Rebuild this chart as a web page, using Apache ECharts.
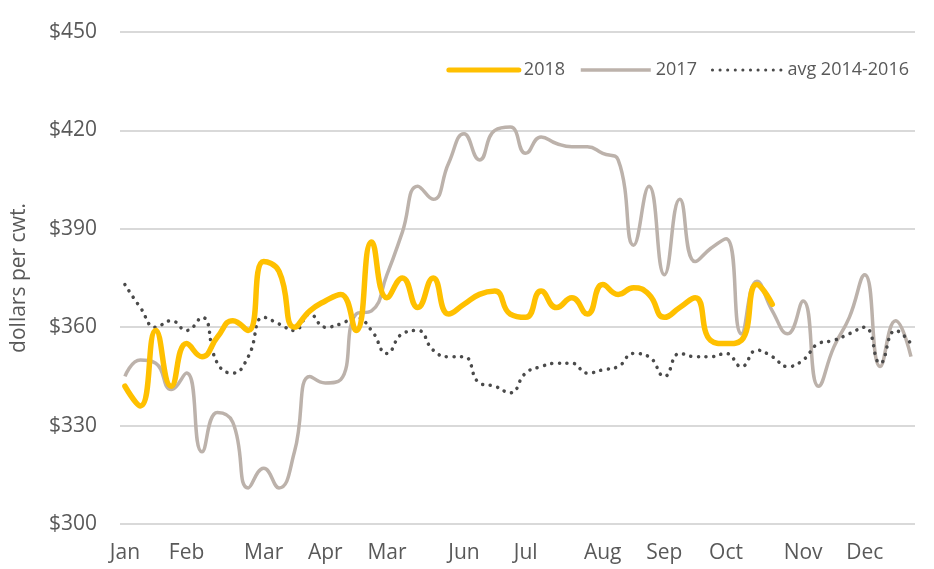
<!DOCTYPE html>
<html>
<head>
<meta charset="utf-8">
<script src="https://cdn.jsdelivr.net/npm/echarts@6/dist/echarts.min.js"></script>
<style>
    html, body { margin: 0; padding: 0; background: #fff; }
    #chart { width: 934px; height: 569px; }
</style>
</head>
<body>
<div id="chart"></div>
<script>
// weekly prices, dollars per cwt (week 0 = first week of Jan)
const monthLabels = ['Jan', 'Feb', 'Mar', 'Apr', 'Mar', 'Jun', 'Jul', 'Aug', 'Sep', 'Oct', 'Nov', 'Dec'];
const monthWeeks = [0, 4, 9, 13, 17, 22, 26, 31, 35, 39, 44, 48];

const y2018 = [342, 336, 359, 342, 355, 351, 357, 362, 359, 380,
    377, 360, 365, 368, 370, 359, 386, 369, 375, 366,
    375, 364, 367, 370, 371, 364, 363, 371, 366, 369,
    364, 373, 370, 372, 370, 363, 366, 369, 356, 355,
    356, 373, 367, null, null, null, null, null, null, null,
    null, null];

const y2017 = [345, 350, 349, 341, 346, 322, 334, 331, 311, 317,
    311, 322, 345, 343, 344, 364, 365, 376, 389, 403,
    399, 410, 419, 411, 420, 421, 413, 418, 416, 415,
    415, 413, 411, 385, 403, 376, 399, 380, 384, 387,
    358, 374, 365, 358, 368, 342, 354, 363, 376, 348,
    362, 351];

const yAvg = [373, 366, 360, 362, 359, 363, 349, 346, 351, 363,
    361, 359, 364, 360, 361, 363, 359, 352, 358, 359,
    353, 351, 351, 343, 342, 340, 346, 348, 349, 349,
    346, 347, 348, 352, 351, 345, 352, 351, 351, 352,
    348, 353, 351, 348, 350, 355, 356, 358, 360, 349,
    359, 355];

const font = '"Open Sans", sans-serif';
const textColor = '#595959';

function byWeek(arr) {
    return arr.map(function (v, i) { return [i, v]; });
}

let chart = echarts.init(document.getElementById('chart'));

const option = {
    animation: false,
    textStyle: { fontFamily: font },
    grid: { left: 120, right: 19, top: 32, bottom: 45 },
    legend: {
        top: 56,
        right: 20,
        itemWidth: 70,
        itemHeight: 6,
        itemGap: 14,
        itemStyle: { opacity: 0 },
        textStyle: { color: textColor, fontSize: 18, fontFamily: font },
        data: [
            { name: '2018', lineStyle: { width: 5 } },
            { name: '2017', lineStyle: { width: 3.5 } },
            { name: 'avg 2014-2016', lineStyle: { width: 3 } }
        ]
    },
    xAxis: {
        type: 'value',
        min: -0.32,
        max: 51.26,
        axisLine: { show: false },
        axisTick: { show: false },
        splitLine: { show: false },
        axisLabel: {
            color: textColor,
            fontSize: 21,
            margin: 19,
            customValues: monthWeeks,
            formatter: function (val) {
                return monthLabels[monthWeeks.indexOf(val)];
            }
        }
    },
    yAxis: {
        type: 'value',
        min: 300,
        max: 450,
        interval: 30,
        name: 'dollars per cwt.',
        nameLocation: 'middle',
        nameGap: 90,
        nameTextStyle: { color: textColor, fontSize: 21, fontFamily: font },
        axisLine: { show: false },
        axisTick: { show: false },
        axisLabel: {
            color: textColor,
            fontSize: 21,
            margin: 23,
            formatter: '${value}'
        },
        splitLine: { lineStyle: { color: '#d9d9d9', width: 2 } }
    },
    series: [
        {
            name: '2017',
            type: 'line',
            data: byWeek(y2017),
            smooth: 0.5,
            symbol: 'none',
            z: 2,
            color: '#bcb2ab',
            lineStyle: { color: '#bcb2ab', width: 3.5 }
        },
        {
            name: 'avg 2014-2016',
            type: 'line',
            data: byWeek(yAvg),
            smooth: 0.5,
            symbol: 'none',
            z: 3,
            color: '#4a4a4a',
            lineStyle: { color: '#4a4a4a', width: 3.5, type: [0.1, 7.5], cap: 'round' }
        },
        {
            name: '2018',
            type: 'line',
            data: byWeek(y2018),
            smooth: 0.5,
            symbol: 'none',
            z: 4,
            color: '#ffc000',
            lineStyle: { color: '#ffc000', width: 5.5, cap: 'round' }
        }
    ]
};

chart.setOption(option);
window.addEventListener('resize', function () {
    chart.resize();
});
</script>
</body>
</html>
